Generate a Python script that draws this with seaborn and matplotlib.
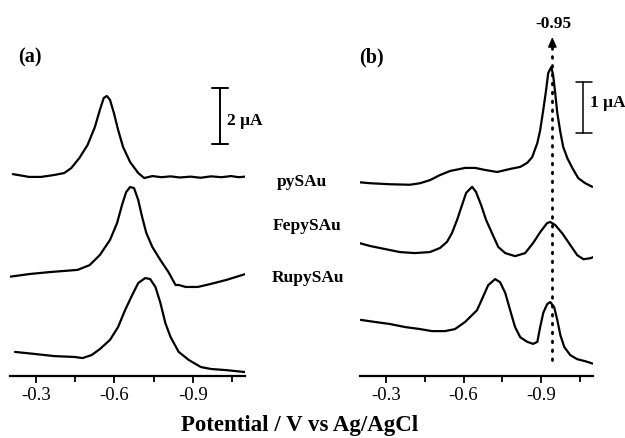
import numpy as np
import pandas as pd
import matplotlib
matplotlib.use("Agg")
import matplotlib.pyplot as plt
import seaborn as sns

# ---------------- data (potential in V vs Ag/AgCl, current in uA, stacked) ----
a_py_E = [-0.211, -0.273, -0.319, -0.370, -0.408, -0.435, -0.466, -0.497, -0.525, -0.544,
          -0.559, -0.571, -0.583, -0.598, -0.614, -0.633, -0.660, -0.691, -0.714, -0.745,
          -0.780, -0.815, -0.850, -0.892, -0.930, -0.970, -1.010, -1.047, -1.075, -1.101]
a_py_i = [7.21, 7.11, 7.11, 7.18, 7.25, 7.43, 7.79, 8.25, 8.89, 9.50,
          9.93, 10.00, 9.86, 9.39, 8.79, 8.18, 7.64, 7.25, 7.07, 7.14,
          7.10, 7.13, 7.09, 7.12, 7.08, 7.13, 7.10, 7.14, 7.10, 7.12]

a_fe_E = [-0.195, -0.273, -0.350, -0.459, -0.505, -0.544, -0.583, -0.610, -0.629, -0.645,
          -0.660, -0.675, -0.691, -0.706, -0.722, -0.745, -0.776, -0.807, -0.834, -0.846,
          -0.873, -0.919, -0.970, -1.028, -1.101]
a_fe_i = [3.54, 3.64, 3.71, 3.79, 3.96, 4.32, 4.86, 5.46, 6.11, 6.57,
          6.75, 6.71, 6.29, 5.68, 5.11, 4.61, 4.14, 3.71, 3.25, 3.25,
          3.18, 3.18, 3.29, 3.43, 3.64]

a_ru_E = [-0.219, -0.292, -0.370, -0.447, -0.478, -0.513, -0.544, -0.583, -0.614, -0.641,
          -0.668, -0.691, -0.718, -0.737, -0.757, -0.776, -0.795, -0.815, -0.846, -0.885,
          -0.931, -0.970, -1.028, -1.101]
a_ru_i = [0.86, 0.79, 0.71, 0.68, 0.64, 0.75, 0.96, 1.29, 1.75, 2.36,
          2.89, 3.32, 3.50, 3.46, 3.18, 2.61, 1.89, 1.39, 0.86, 0.57,
          0.32, 0.25, 0.21, 0.14]

b_py_E = [-0.195, -0.238, -0.315, -0.393, -0.432, -0.470, -0.509, -0.548, -0.606, -0.645,
          -0.683, -0.730, -0.780, -0.819, -0.846, -0.865, -0.885, -0.896, -0.908, -0.919,
          -0.927, -0.939, -0.946, -0.954, -0.962, -0.974, -0.985, -1.001, -1.020, -1.043,
          -1.070, -1.097]
b_py_i = [3.80, 3.78, 3.76, 3.75, 3.78, 3.84, 3.94, 4.02, 4.08, 4.08,
          4.04, 4.00, 4.06, 4.10, 4.18, 4.29, 4.57, 4.82, 5.22, 5.61,
          5.94, 6.06, 5.90, 5.55, 5.16, 4.78, 4.49, 4.27, 4.08, 3.88,
          3.78, 3.71]

b_fe_E = [-0.195, -0.238, -0.296, -0.354, -0.412, -0.470, -0.509, -0.536, -0.555, -0.575,
          -0.594, -0.610, -0.633, -0.648, -0.668, -0.687, -0.710, -0.734, -0.761, -0.799,
          -0.838, -0.869, -0.896, -0.923, -0.935, -0.954, -0.981, -1.012, -1.039, -1.063,
          -1.090, -1.101]
b_fe_i = [2.61, 2.55, 2.49, 2.43, 2.41, 2.43, 2.51, 2.63, 2.80, 3.06,
          3.35, 3.59, 3.71, 3.61, 3.35, 3.06, 2.80, 2.53, 2.41, 2.35,
          2.41, 2.61, 2.82, 3.00, 3.02, 2.96, 2.80, 2.57, 2.37, 2.29,
          2.31, 2.33]

b_ru_E = [-0.203, -0.257, -0.315, -0.374, -0.432, -0.478, -0.528, -0.567, -0.606, -0.652,
          -0.675, -0.695, -0.722, -0.741, -0.761, -0.780, -0.799, -0.819, -0.846, -0.869,
          -0.885, -0.896, -0.908, -0.923, -0.935, -0.950, -0.962, -0.974, -0.989, -1.012,
          -1.039, -1.070, -1.101]
b_ru_i = [1.10, 1.06, 1.02, 0.96, 0.92, 0.88, 0.88, 0.92, 1.06, 1.29,
          1.55, 1.78, 1.90, 1.84, 1.63, 1.29, 0.96, 0.76, 0.67, 0.63,
          0.67, 0.96, 1.24, 1.41, 1.45, 1.35, 1.10, 0.80, 0.57, 0.41,
          0.33, 0.29, 0.24]

curve_labels = ["pySAu", "FepySAu", "RupySAu"]
major_ticks = [-0.3, -0.6, -0.9]
minor_ticks = [-0.45, -0.75, -1.05]
peak_label = "-0.95"
peak_E = -0.943

# ---------------- styling ----------------
sns.set_theme(style="white")
plt.rcParams["font.family"] = ["Liberation Serif", "DejaVu Serif"]
plt.rcParams["axes.unicode_minus"] = False
plt.rcParams["text.color"] = "black"
plt.rcParams["xtick.color"] = "black"
plt.rcParams["xtick.labelcolor"] = "black"

W, H = 625, 438
fig = plt.figure(figsize=(W / 100, H / 100), dpi=100)

def fx(px):
    return px / W

def fy(py):
    return 1 - py / H

ax_a = fig.add_axes([fx(10), fy(376), (245 - 10) / W, (376 - 20) / H])
ax_b = fig.add_axes([fx(360), fy(376), (593 - 360) / W, (376 - 20) / H])

def make_df(E, i, name):
    return pd.DataFrame({"E": E, "i": i, "curve": name})

df_a = pd.concat([make_df(a_py_E, a_py_i, "py"), make_df(a_fe_E, a_fe_i, "fe"),
                  make_df(a_ru_E, a_ru_i, "ru")])
df_b = pd.concat([make_df(b_py_E, b_py_i, "py"), make_df(b_fe_E, b_fe_i, "fe"),
                  make_df(b_ru_E, b_ru_i, "ru")])

for ax, df, ytop in [(ax_a, df_a, (376 - 20) / 28), (ax_b, df_b, (376 - 20) / 51)]:
    sns.lineplot(data=df, x="E", y="i", units="curve", estimator=None, sort=False,
                 color="black", lw=1.6, ax=ax)
    for ln in ax.get_lines():
        ln.set_solid_joinstyle("round")
        ln.set_solid_capstyle("round")
    ax.set_xlim(-0.2, -1.1)
    ax.set_ylim(0, ytop)
    for s in ["top", "left", "right"]:
        ax.spines[s].set_visible(False)
    ax.spines["bottom"].set_color("black")
    ax.spines["bottom"].set_linewidth(1.6)
    ax.set_yticks([])
    ax.set_xticks(major_ticks)
    ax.set_xticks(minor_ticks, minor=True)
    ax.set_xticklabels([f"{t:.1f}" for t in major_ticks])
    ax.tick_params(axis="x", which="major", direction="out", length=5, width=1.3,
                   labelsize=13.5, pad=3, colors="black", bottom=True)
    ax.tick_params(axis="x", which="minor", direction="out", length=4, width=1.3,
                   bottom=True, colors="black")
    ax.set_xlabel("")
    ax.set_ylabel("")
    ax.patch.set_alpha(0)

# scale bars
ax_a.plot([-1.003, -1.003], [8.29, 10.29], color="black", lw=1.4)
ax_a.plot([-0.975, -1.035], [8.29, 8.29], color="black", lw=1.4)
ax_a.plot([-0.975, -1.035], [10.29, 10.29], color="black", lw=1.4)
ax_b.plot([-1.063, -1.063], [4.76, 5.76], color="black", lw=1.1)
ax_b.plot([-1.035, -1.095], [4.76, 4.76], color="black", lw=1.1)
ax_b.plot([-1.035, -1.095], [5.76, 5.76], color="black", lw=1.1)
fig.text(fx(227), fy(121), "2 \u03bcA", fontsize=12.5, fontweight="bold",
         ha="left", va="center")
fig.text(fx(590), fy(103), "1 \u03bcA", fontsize=12.5, fontweight="bold",
         ha="left", va="center")

# dotted peak marker with arrow
ax_b.plot([peak_E, peak_E], [(376 - 360) / 51, (376 - 46) / 51], color="black",
          lw=2.0, linestyle=(0, (0.6, 2.6)), dash_capstyle="round")
ax_b.annotate("", xy=(peak_E, (376 - 37) / 51), xytext=(peak_E, (376 - 47) / 51),
              arrowprops=dict(arrowstyle="-|>,head_length=0.5,head_width=0.22",
                              color="black", lw=1.0, shrinkA=0, shrinkB=0),
              annotation_clip=False)
fig.text(fx(553), fy(24), peak_label, fontsize=12.5, fontweight="bold",
         ha="center", va="center")

# panel labels
fig.text(fx(30), fy(57), "(a)", fontsize=14.5, fontweight="bold", ha="center", va="center")
fig.text(fx(371), fy(57), "(b)", fontsize=14.5, fontweight="bold", ha="center", va="center")

# curve labels
for lab, px, py in zip(curve_labels, [302, 307, 308], [182, 226, 278]):
    fig.text(fx(px), fy(py), lab, fontsize=12.5, fontweight="bold",
             ha="center", va="center")

fig.text(fx(300), fy(426), "Potential / V vs Ag/AgCl", fontsize=16.5,
         fontweight="bold", ha="center", va="center")

fig.savefig("out.png", dpi=100)
